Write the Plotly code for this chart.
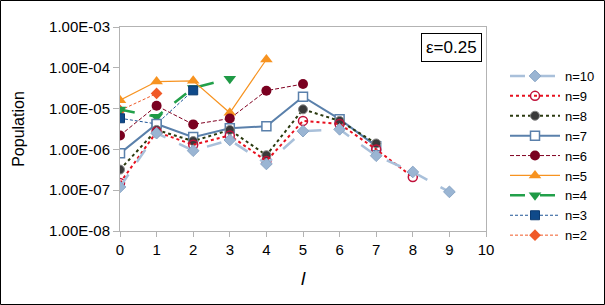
import plotly.graph_objects as go

l_vals = list(range(11))

n10 = [1.2e-7, 2.5e-6, 9.3e-7, 1.7e-6, 4.4e-7, 2.8e-6, 3.1e-6, 7.0e-7, 2.8e-7, 9.1e-8]
n9 = [1.5e-7, 2.7e-6, 1.3e-6, 2.2e-6, 5.2e-7, 5.0e-6, 4.2e-6, 1.0e-6, 2.1e-7]
n8 = [3.2e-7, 3.0e-6, 1.6e-6, 3.0e-6, 7.2e-7, 9.6e-6, 5.0e-6, 1.4e-6]
n7 = [8.0e-7, 4.2e-6, 2.0e-6, 3.3e-6, 3.7e-6, 1.95e-5, 5.5e-6, 1.2e-6]
n6 = [2.2e-6, 1.17e-5, 4.1e-6, 5.7e-6, 2.75e-5, 4.0e-5]
n5 = [1.6e-5, 4.6e-5, 4.8e-5, 7.9e-6, 1.6e-4]
n4 = [9.5e-6, 6.3e-6, 3.2e-5, 5.4e-5]
n3 = [5.8e-6, 4.2e-6, 2.8e-5]
n2 = [9.0e-6, 2.35e-5]

y_tickvals = [1e-8, 1e-7, 1e-6, 1e-5, 1e-4, 1e-3]
y_ticktext = ["1.00E-08", "1.00E-07", "1.00E-06", "1.00E-05", "1.00E-04", "1.00E-03"]
x_tickvals = list(range(11))

series = {
    "n=10": (n10, dict(color="#a9c0da", width=2.5, dash="longdash"),
             dict(symbol="diamond", size=9, color="#9ab5d3", line=dict(color="#8aa6c6", width=1))),
    "n=9": (n9, dict(color="#e8101e", width=2, dash="dot"),
            dict(symbol="circle-open", size=9, color="#c0103a", line=dict(width=1.5))),
    "n=8": (n8, dict(color="#2b3a10", width=2, dash="dot"),
            dict(symbol="circle", size=9, color="#3a3a3a", line=dict(color="#888888", width=1))),
    "n=7": (n7, dict(color="#5a80ab", width=2, dash="solid"),
            dict(symbol="square", size=9, color="#ffffff", line=dict(color="#5a80ab", width=1.5))),
    "n=6": (n6, dict(color="#800020", width=1, dash="4px,2px"),
            dict(symbol="circle", size=10, color="#7a0020")),
    "n=5": (n5, dict(color="#f79320", width=1.2, dash="solid"),
            dict(symbol="triangle-up", size=11, color="#f79320")),
    "n=4": (n4, dict(color="#22a04a", width=2.5, dash="longdash"),
            dict(symbol="triangle-down", size=11, color="#1f9a46")),
    "n=3": (n3, dict(color="#1f5597", width=1, dash="3px,2px"),
            dict(symbol="square", size=9, color="#0f4a8a", line=dict(color="#0a3a70", width=1))),
    "n=2": (n2, dict(color="#f05a28", width=1, dash="3px,2px"),
            dict(symbol="diamond", size=9, color="#f05a28")),
}
legend_order = ["n=10", "n=9", "n=8", "n=7", "n=6", "n=5", "n=4", "n=3", "n=2"]
draw_order = ["n=2", "n=4", "n=3", "n=5", "n=6", "n=7", "n=8", "n=9", "n=10"]

fig = go.Figure()
for name in draw_order:
    vals, line, marker = series[name]
    fig.add_trace(go.Scatter(x=l_vals[:len(vals)], y=vals, name=name, mode="lines+markers",
                             line=line, marker=marker,
                             legendrank=100 + legend_order.index(name)))

W, H = 605, 305
ml, mr, mt, mb = 120, 119, 27, 74
pw, ph = W - ml - mr, H - mt - mb

fig.update_layout(
    width=W, height=H,
    margin=dict(l=ml, r=mr, t=mt, b=mb, autoexpand=False),
    paper_bgcolor="white", plot_bgcolor="white",
    font=dict(family="Liberation Sans, Arial, sans-serif", size=15, color="#000000"),
    showlegend=True,
    legend=dict(x=(505 - ml) / pw, y=1 - (61 - mt) / ph, xanchor="left", yanchor="top",
                font=dict(size=13), tracegroupgap=0, itemwidth=50, traceorder="normal",
                bgcolor="rgba(0,0,0,0)"),
    xaxis=dict(range=[0, 10], tickvals=x_tickvals, showgrid=False, zeroline=False,
               showline=True, linecolor="#b3b3b3", mirror=True, ticks="outside",
               ticklen=5, tickcolor="#b3b3b3", automargin=False,
               title=dict(text="<i>l</i>", font=dict(size=19), standoff=14)),
    yaxis=dict(type="log", range=[-8, -3], tickvals=y_tickvals, ticktext=y_ticktext,
               showgrid=False, zeroline=False, showline=True, linecolor="#b3b3b3",
               mirror=True, ticks="outside", ticklen=6, tickcolor="#b3b3b3", automargin=False,
               title=dict(text="Population", font=dict(size=16), standoff=20)),
    annotations=[dict(text="ε=0.25", xref="paper", yref="paper",
                      x=(451 - ml) / pw, y=1 - (47.5 - mt) / ph, xanchor="center",
                      yanchor="middle", showarrow=False,
                      font=dict(size=17), bordercolor="#000000", borderwidth=1,
                      borderpad=4, bgcolor="white")],
    shapes=[dict(type="rect", xref="paper", yref="paper",
                 x0=(0.5 - ml) / pw, x1=(W - 0.5 - ml) / pw,
                 y0=-(H - 0.5 - (mt + ph)) / ph, y1=1 + (mt - 0.5) / ph,
                 line=dict(color="#000000", width=1))],
)

fig.write_html("out.html", config={"displayModeBar": False},
               post_script="document.body.style.margin='0';document.body.style.overflow='hidden';")
